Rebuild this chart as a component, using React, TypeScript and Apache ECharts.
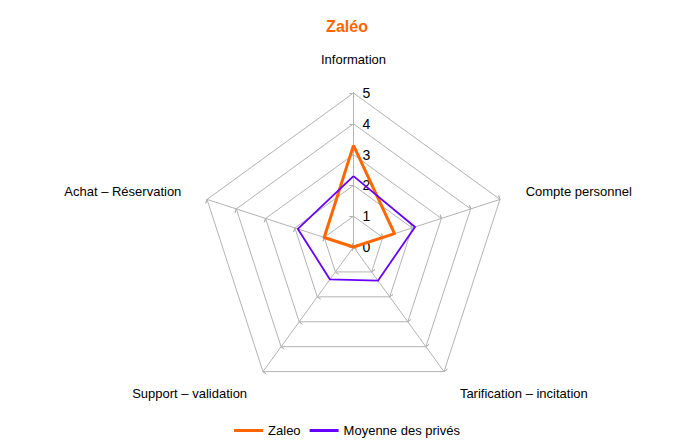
import React, { useEffect, useRef } from 'react';
import * as echarts from 'echarts';

// clockwise from the top
const axes = ['Information', 'Compte personnel', 'Tarification – incitation', 'Support – validation', 'Achat – Réservation'];
const zaleo = [3.3, 1.4, 0, 0, 1.0];
const moyennePrives = [2.3, 2.1, 1.35, 1.3, 1.9];
const maxValue = 5;

const FONT = '"Liberation Sans", Arial, sans-serif';
const GRID = '#b3b3b3';
const CENTER = [353.5, 247];
const RADIUS = 154;

// echarts radar runs counter-clockwise, so reorder
const order = [0, 4, 3, 2, 1];
const pick = <T,>(arr: T[]) => order.map((i) => arr[i]);

const App = () => {
    const chartRef = useRef<HTMLDivElement>(null);

    useEffect(() => {
        document.body.style.margin = '0';
        if (!chartRef.current) return;
        const chart = echarts.init(chartRef.current, null, { renderer: 'svg' });
        chart.setOption({
            animation: false,
            textStyle: { fontFamily: FONT },
            title: {
                text: 'Zaléo',
                left: 'center',
                top: 13,
                textStyle: { color: '#ff6600', fontSize: 16, fontWeight: 'bold', fontFamily: FONT },
            },
            legend: {
                bottom: 4,
                left: 'center',
                icon: 'rect',
                itemWidth: 29,
                itemHeight: 3,
                itemGap: 9,
                textStyle: { color: '#000', fontSize: 13, fontFamily: FONT },
                data: ['Zaleo', 'Moyenne des privés'],
            },
            radar: [
                {
                    center: CENTER,
                    radius: RADIUS,
                    startAngle: 90,
                    shape: 'polygon',
                    splitNumber: 5,
                    nameGap: 27,
                    axisName: { color: '#000', fontSize: 13, fontFamily: FONT },
                    indicator: pick(axes).map((name) => ({ name, max: maxValue, min: 0 })),
                    axisLine: { lineStyle: { color: GRID, width: 1 } },
                    axisTick: { show: true, length: 4, lineStyle: { color: GRID } },
                    splitLine: { lineStyle: { color: GRID, width: 1 } },
                    splitArea: { show: false },
                    axisLabel: { show: false },
                },
                {
                    // other half of the cross ticks
                    center: CENTER,
                    radius: RADIUS,
                    startAngle: 90,
                    splitNumber: 5,
                    indicator: axes.map(() => ({ name: '', max: maxValue, min: 0 })),
                    axisLine: { show: false },
                    axisTick: { show: true, inside: true, length: 4, lineStyle: { color: GRID } },
                    splitLine: { show: false },
                    splitArea: { show: false },
                    axisLabel: { show: false },
                },
                {
                    // value labels on the Information axis only
                    center: CENTER,
                    radius: RADIUS,
                    startAngle: 90,
                    splitNumber: 5,
                    indicator: [{ name: '', max: maxValue, min: 0 }],
                    axisLine: { show: false },
                    axisTick: { show: false },
                    splitLine: { show: false },
                    splitArea: { show: false },
                    axisLabel: { show: true, color: '#000', fontSize: 14, margin: -9, align: 'left', fontFamily: FONT },
                },
            ],
            series: [
                {
                    type: 'radar',
                    radarIndex: 0,
                    symbol: 'none',
                    data: [
                        {
                            name: 'Zaleo',
                            value: pick(zaleo),
                            lineStyle: { color: '#ff6600', width: 3 },
                            itemStyle: { color: '#ff6600' },
                        },
                        {
                            name: 'Moyenne des privés',
                            value: pick(moyennePrives),
                            lineStyle: { color: '#6600ff', width: 1.8 },
                            itemStyle: { color: '#6600ff' },
                        },
                    ],
                },
            ],
        });
        return () => {
            chart.dispose();
        };
    }, []);

    return <div ref={chartRef} style={{ width: 694, height: 446 }}></div>;
};

export default App;
